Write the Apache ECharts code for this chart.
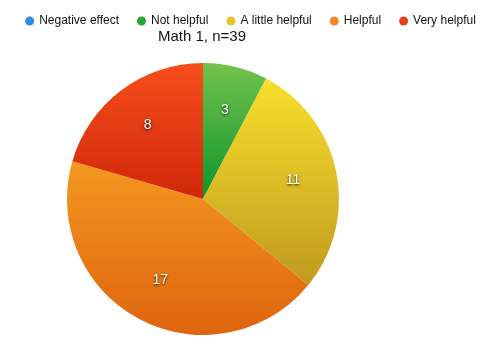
<!DOCTYPE html>
<html>
<head>
<meta charset="utf-8">
<script src="https://cdn.jsdelivr.net/npm/echarts@6/dist/echarts.min.js"></script>
<style>
  html, body { margin: 0; padding: 0; background: #fff; }
  #chart { width: 501px; height: 350px; }
</style>
</head>
<body>
<div id="chart"></div>
<script>
// Survey responses for Math 1
const categories = ['Negative effect', 'Not helpful', 'A little helpful', 'Helpful', 'Very helpful'];
const counts = [0, 3, 11, 17, 8];
const chartTitle = 'Math 1, n=39';

// Per-category colours: legend swatch, gradient top, gradient bottom
const swatchColors = ['#2f8be6', '#2ea43c', '#e4c62c', '#ee8820', '#e5411b'];
const topColors = ['#46a2f4', '#74c24c', '#f8e02c', '#f3981f', '#f64e1b'];
const bottomColors = ['#1a6ccc', '#0c952c', '#c09a1f', '#df640e', '#cf270a'];

const chart = echarts.init(document.getElementById('chart'), null, { renderer: 'canvas' });

const gradient = (i) => new echarts.graphic.LinearGradient(0, 0, 0, 1, [
  { offset: 0, color: topColors[i] },
  { offset: 1, color: bottomColors[i] }
]);

const pieCenter = [203, 199];
const fontFamily = '"Liberation Sans", Arial, Helvetica, sans-serif';

chart.setOption({
  animation: false,
  title: {
    text: chartTitle,
    left: 158,
    top: 29,
    padding: 0,
    textStyle: { fontSize: 15, fontWeight: 'normal', color: '#111', fontFamily }
  },
  legend: {
    top: 15,
    left: 'center',
    icon: 'circle',
    itemWidth: 9,
    itemHeight: 9,
    itemGap: 18,
    padding: 0,
    textStyle: { fontSize: 12, color: '#111', fontFamily },
    data: categories.map((name, i) => ({ name, itemStyle: { color: swatchColors[i] } }))
  },
  series: [
    {
      type: 'pie',
      center: pieCenter,
      radius: 136,
      startAngle: 90,
      clockwise: true,
      silent: true,
      label: { show: false },
      labelLine: { show: false },
      data: categories.map((name, i) => ({
        name,
        value: counts[i],
        itemStyle: { color: gradient(i) }
      }))
    },
    {
      // transparent ring used only to place the count labels further out
      type: 'pie',
      center: pieCenter,
      radius: [42, 136],
      startAngle: 90,
      clockwise: true,
      silent: true,
      legendHoverLink: false,
      itemStyle: { color: 'rgba(0,0,0,0)' },
      label: {
        show: true,
        position: 'inside',
        formatter: (p) => (p.value ? String(p.value) : ''),
        color: '#fff',
        fontSize: 14,
        fontFamily,
        textShadowColor: 'rgba(0,0,0,0.9)',
        textShadowBlur: 2.5,
        textShadowOffsetY: 1
      },
      labelLine: { show: false },
      data: categories.map((name, i) => ({ name, value: counts[i] }))
    }
  ]
});
</script>
</body>
</html>
